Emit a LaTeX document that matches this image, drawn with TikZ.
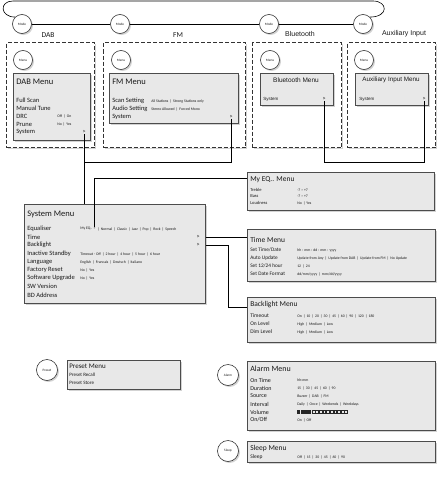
\documentclass[tikz,border=0pt]{standalone}
\usepackage{fontspec}
\setmainfont{Carlito}
\newfontfamily\arialfont{Liberation Sans}
\usetikzlibrary{shadows, positioning}
\colorlet{boxgrey}{black!9}
\colorlet{textgrey}{black!90}

\begin{document}
\begin{tikzpicture}[x=1pt, y=-1pt, semithick, text=textgrey,
  softshadow/.style={drop shadow={shadow xshift=1.5pt, shadow yshift=-1.5pt, opacity=.35}},
  mode/.style={circle, draw=black!80, fill=white, minimum size=19pt, inner sep=0pt, font=\fontsize{3.4}{3.5}\selectfont, softshadow},
  zone/.style={draw=black!80, fill=white, line width=1pt, dash pattern=on 4pt off 2pt, anchor=north west, inner sep=0pt, softshadow},
  menubox/.style={draw=black!70, fill=boxgrey, line width=.8pt, anchor=north west, inner sep=0pt, softshadow},
  title/.style={anchor=west, inner sep=0pt, font=\fontsize{#1}{#1}\selectfont}, title/.default=8.5,
  item/.style={anchor=west, inner sep=0pt, font=\fontsize{#1}{#1}\selectfont}, item/.default=6.5,
  opt/.style={anchor=west, inner sep=0pt, font=\fontsize{3.8}{4}\selectfont},
  more/.style={anchor=center, inner sep=0pt, font=\fontsize{6}{6}\selectfont},
  label/.style={inner sep=0pt, font=\fontsize{7.5}{8}\selectfont}]
\useasboundingbox (0,0) rectangle (446,479);

% source zones
\node[zone, minimum width=88pt, minimum height=105pt] (dabzone) at (6,42) {};
\node[zone, minimum width=142pt, minimum height=105pt] (fmzone) at (103,42) {};
\node[zone, minimum width=89pt, minimum height=105pt] (btzone) at (252,42) {};
\node[zone, minimum width=88pt, minimum height=105pt] (auxzone) at (347,42) {};

\node[label] at (48,35) {DAB};
\node[label] at (178,35) {FM};
\node[label, font=\arialfont\fontsize{7}{8}\selectfont] at (300,34) {Bluetooth};
\node[label, font=\arialfont\fontsize{7}{8}\selectfont] at (404,34) {Auxiliary Input};

% mode loop
\node[mode] (mode1) at (22,24) {Mode};
\node[mode] (mode2) at (120,24) {Mode};
\node[mode] (mode3) at (269,24) {Mode};
\node[mode] (mode4) at (363,24) {Mode};
\coordinate (loopl) at (13,1);
\coordinate (loopr) at (373,1);
\draw (mode1) -- (mode2) -- (mode3) -- (mode4);
\draw (mode1.north west) .. controls (0,17) and (-1,1) .. (loopl) -- (loopr) .. controls (388,1) and (389,17) .. (mode4.north east);

% menu buttons
\node[mode] (menu1) at (23,60) {Menu};
\node[mode] (menu2) at (121,60) {Menu};
\node[mode] (menu3) at (270,60) {Menu};
\node[mode] (menu4) at (364,60) {Menu};

% DAB menu
\node[menubox, minimum width=77pt, minimum height=67pt] (dabmenu) at (13,73) {};
\node[title] at (16,82) {DAB Menu};
\node[item] at (16,100) {Full Scan};
\node[item] at (16,108) {Manual Tune};
\node[item] at (16,116) {DRC};
\node[item] at (16,124) {Prune};
\node[item] at (16,132) {System};
\node[opt] at (57,116) {Off \,|\, On};
\node[opt] at (57,124) {No \,|\, Yes};
\node[more] (dabsys) at (84,132) {>};

% FM menu
\node[menubox, minimum width=129pt, minimum height=50pt] (fmmenu) at (109,73) {};
\node[title] at (112,82) {FM Menu};
\node[item] at (112,101) {Scan Setting};
\node[item] at (112,109) {Audio Setting};
\node[item] at (112,117) {System};
\node[opt] at (151,101) {All Stations \,|\, Strong Stations only};
\node[opt] at (151,109) {Stereo Allowed \,|\, Forced Mono};
\node[more] (fmsys) at (231,117) {>};

% Bluetooth menu
\node[menubox, minimum width=73pt, minimum height=32pt] (btmenu) at (260,73) {};
\node[inner sep=0pt, font=\arialfont\fontsize{6.5}{7}\selectfont] at (296,80) {Bluetooth Menu};
\node[item=4.5, font=\arialfont\fontsize{4.5}{5}\selectfont] at (263,99) {System};
\node[more] (btsys) at (324,99) {>};

% Auxiliary menu
\node[menubox, minimum width=73pt, minimum height=32pt] (auxmenu) at (355,73) {};
\node[inner sep=0pt, font=\arialfont\fontsize{6.3}{7}\selectfont] at (391,80) {Auxiliary Input Menu};
\node[item=4.5, font=\arialfont\fontsize{4.5}{5}\selectfont] at (359,99) {System};
\node[more] (auxsys) at (424,99) {>};

% System menu
\node[menubox, minimum width=181pt, minimum height=99pt] (sysmenu) at (24,204) {};
\node[title] at (27,214) {System Menu};
\node[item] at (27,229) {Equaliser};
\node[item] at (27,237) {Time};
\node[item] at (27,245) {Backlight};
\node[item] at (27,254) {Inactive Standby};
\node[item] at (27,262) {Language};
\node[item] at (27,270) {Factory Reset};
\node[item] at (27,278) {Software Upgrade};
\node[item] at (27,286) {SW Version};
\node[item] at (27,295) {BD Address};
\node[opt] (eqopt) at (80,229) {My EQ.. >};
\node[opt, right=1.5pt of eqopt] {| \,Normal \,|\, Classic \,|\, Jazz \,|\, Pop \,|\, Rock \,|\, Speech};
\node[more] (timearr) at (198,237) {>};
\node[more] (backarr) at (198,245) {>};
\node[opt] at (80,254) {Timeout - Off \,|\, 2 hour \,|\, 4 hour \,|\, 5 hour \,|\, 6 hour};
\node[opt] at (80,262) {English \,|\, Francais \,|\, Deutsch \,|\, Italiano};
\node[opt] at (80,270) {No \,|\, Yes};
\node[opt] at (80,278) {No \,|\, Yes};

% My EQ menu
\node[menubox, minimum width=187pt, minimum height=38pt] (eqmenu) at (247,172) {};
\node[title=7.5] at (250,180) {My EQ.. Menu};
\node[item=4.5] at (250,190) {Treble};
\node[item=4.5] at (250,196.5) {Bass};
\node[item=4.5] at (250,203) {Loudness};
\node[opt] at (297,190) {-7 \textasciitilde{} +7};
\node[opt] at (297,196.5) {-7 \textasciitilde{} +7};
\node[opt] at (297,203) {No \,|\, Yes};

% Time menu
\node[menubox, minimum width=188pt, minimum height=52pt] (timemenu) at (247,229) {};
\node[title=7.5] at (250,240) {Time Menu};
\node[item=5.3] at (250,250) {Set Time/Date};
\node[item=5.3] at (250,258) {Auto Update};
\node[item=5.3] at (250,266) {Set 12/24 hour};
\node[item=5.3] at (250,274) {Set Date Format};
\node[opt] at (297,250) {hh : mm : dd : mm : yyyy};
\node[opt] at (297,258) {Update from Any \,|\, Update from DAB \,|\, Update from FM \,|\, No Update};
\node[opt] at (297,266) {12 \,|\, 24};
\node[opt] at (297,274) {dd/mm/yyyy \,|\, mm/dd/yyyy};

% Backlight menu
\node[menubox, minimum width=188pt, minimum height=45pt] (backmenu) at (247,297) {};
\node[title=7.5] at (250,305) {Backlight Menu};
\node[item=5.5] at (250,316) {Timeout};
\node[item=5.5] at (250,324) {On Level};
\node[item=5.5] at (250,332) {Dim Level};
\node[opt] at (297,316) {On \,|\, 10 \,|\, 20 \,|\, 30 \,|\, 45 \,|\, 60 \,|\, 90 \,|\, 120 \,|\, 180};
\node[opt] at (297,324) {High \,|\, Medium \,|\, Low};
\node[opt] at (297,332) {High \,|\, Medium \,|\, Low};

% Preset
\node[mode, minimum size=21pt] (preset) at (47,370) {Preset};
\node[menubox, minimum width=113pt, minimum height=29pt] (presetmenu) at (67,360) {};
\node[title=7] at (69,366) {Preset Menu};
\node[item=5] at (69,375) {Preset Recall};
\node[item=5] at (69,383) {Preset Store};

% Alarm
\node[mode, minimum size=21pt] (alarm) at (228,375) {Alarm};
\node[menubox, minimum width=188pt, minimum height=69pt] (alarmmenu) at (247,361) {};
\node[title=8] at (250,369) {Alarm Menu};
\node[item=6] at (250,380) {On Time};
\node[item=6] at (250,388) {Duration};
\node[item=6] at (250,396) {Source};
\node[item=6] at (250,404) {Interval};
\node[item=6] at (250,412) {Volume};
\node[item=6] at (250,420) {On/Off};
\node[opt] at (297,380) {hh:mm};
\node[opt] at (297,388) {15 \,|\, 30 \,|\, 45 \,|\, 60 \,|\, 90};
\node[opt] at (297,396) {Buzzer \,|\, DAB \,|\, FM};
\node[opt] at (297,404) {Daily \,|\, Once \,|\, Weekends \,|\, Weekdays};
\foreach \i in {0,...,3}
  \fill[black!85] (297+3.65*\i,410.2) rectangle ++(3.2,3.6);
\foreach \i in {4,...,13}
  \draw[black!85, line width=.4pt] (297.2+3.65*\i,410.4) rectangle ++(2.9,3.2);
\node[opt] at (297,420) {On \,|\, Off};

% Sleep
\node[mode, minimum size=21pt] (sleep) at (228,451) {Sleep};
\node[menubox, minimum width=188pt, minimum height=21pt] (sleepmenu) at (247,441) {};
\node[title=7.5] at (250,448) {Sleep Menu};
\node[item=5.5] at (250,457) {Sleep};
\node[opt] at (297,457) {Off \,|\, 15 \,|\, 30 \,|\, 45 \,|\, 60 \,|\, 90};

% links to the system menu
\coordinate (sysbus) at (0,162);
\draw (dabsys.south) -- (dabsys.south |- sysmenu.north);
\draw (fmsys.south) -- (fmsys.south |- sysbus) -- (dabsys.south |- sysbus);
\draw (btsys.south) -- (btsys.south |- sysbus);
\draw (auxsys.south) -- (auxsys.south |- sysbus) -- (btsys.south |- sysbus);
\draw ([xshift=-1pt]eqopt.north east) |- ([yshift=-6pt]eqmenu.north west);
\draw (timearr.east -| sysmenu.east) -- (timearr.east -| timemenu.west);
\draw (backarr.east -| sysmenu.east) -- ++(22,0) |- ([yshift=-10pt]backmenu.north west);
\end{tikzpicture}
\end{document}
